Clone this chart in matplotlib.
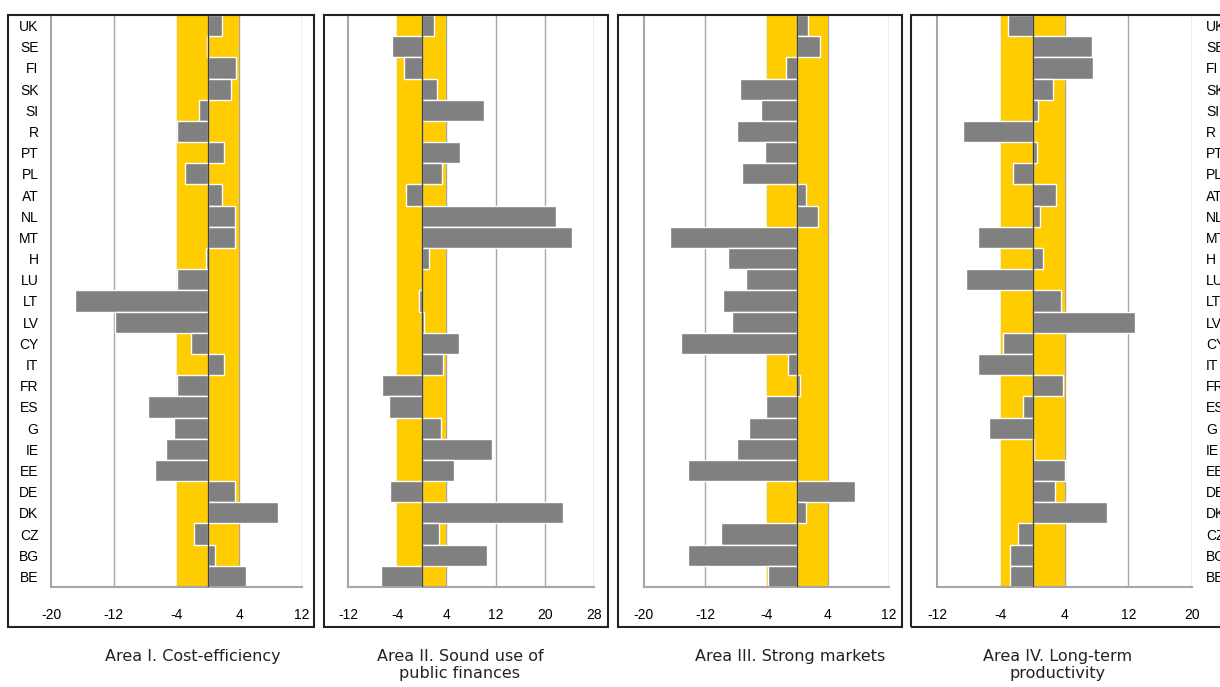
import matplotlib
matplotlib.use("Agg")
import matplotlib.pyplot as plt
from matplotlib.patches import Rectangle
import numpy as np

countries = ["UK", "SE", "FI", "SK", "SI", "R", "PT", "PL", "AT", "NL", "MT", "H", "LU",
             "LT", "LV", "CY", "IT", "FR", "ES", "G", "IE", "EE", "DE", "DK", "CZ", "BG", "BE"]

cost_efficiency = [1.8, -0.1, 3.6, 3.0, -1.1, -3.9, 2.1, -2.9, 1.8, 3.4, 3.4, -0.3, -3.9,
                   -16.9, -11.8, -2.2, 2.0, -4.0, -7.6, -4.3, -5.4, -6.8, 3.4, 9.0, -1.8, 0.9, 4.8]
public_finances = [2.0, -4.8, -2.9, 2.5, 10.1, 0.0, 6.2, 3.3, -2.6, 21.9, 24.5, 1.2, 0.0,
                   -0.4, 0.4, 6.0, 3.5, -6.5, -5.3, 3.1, 11.4, 5.3, -5.2, 23.0, 2.8, 10.6, -6.7]
strong_markets = [1.4, 3.0, -1.4, -7.4, -4.7, -7.8, -4.2, -7.2, 1.1, 2.7, -16.6, -9.0, -6.7,
                  -9.7, -8.5, -15.2, -1.2, 0.4, -4.1, -6.3, -7.8, -14.3, 7.6, 1.2, -10.0, -14.2, -3.8]
productivity = [-3.1, 7.4, 7.6, 2.5, 0.7, -8.7, 0.6, -2.5, 2.9, 0.9, -6.9, 1.3, -8.4,
                3.5, 12.8, -3.7, -6.8, 3.8, -1.2, -5.5, 0.2, 4.0, 2.8, 9.3, -1.8, -2.8, -2.8]

titles = ["Area I. Cost-efficiency", "Area II. Sound use of\npublic finances",
          "Area III. Strong markets", "Area IV. Long-term\nproductivity"]
series = [cost_efficiency, public_finances, strong_markets, productivity]
xlims = [(-20, 12), (-12, 28), (-20, 12), (-12, 20)]

W, H = 1220, 687
fig = plt.figure(figsize=(W / 100, H / 100), dpi=100)

# pixel layout: axes x-range, frame x-range, title centre
ax_px = [(51, 302), (348, 594), (644, 889), (937, 1192)]
frame_px = [(8, 314), (324, 608), (618, 902), (911, 1230)]
title_x = [193, 460, 790, 1058]
ax_top, ax_bot = 15, 587
fr_top, fr_bot = 15, 627

gold = "#FFCC00"
grey = "#808080"
grid_c = "#A6A6A6"

y = np.arange(len(countries))

for i in range(4):
    x0, x1 = ax_px[i]
    ax = fig.add_axes([x0 / W, 1 - ax_bot / H, (x1 - x0) / W, (ax_bot - ax_top) / H])
    lo, hi = xlims[i]
    ax.set_xlim(lo, hi)
    ax.set_ylim(len(countries) - 0.5, -0.5)
    ticks = np.arange(lo, hi + 1, 8)
    ax.set_xticks(ticks)
    ax.set_xticklabels([str(t) for t in ticks], fontsize=10, family="Liberation Sans")
    for t in ticks[1:]:
        ax.axvline(t, color=grid_c, lw=1, zorder=0)
    ax.axvspan(-4, 4, color=gold, zorder=1, lw=0)
    ax.barh(y, series[i], height=1.0, color=grey, edgecolor="white", linewidth=1, zorder=2)
    ax.axvline(0, color="#404040", lw=1, zorder=3)
    for s in ["top", "right"]:
        ax.spines[s].set_visible(False)
    for s in ["left", "bottom"]:
        ax.spines[s].set_color(grid_c)
        ax.spines[s].set_linewidth(1.5)
    ax.tick_params(axis="x", length=0, pad=15)
    ax.set_yticks(y)
    if i == 0:
        ax.set_yticklabels(countries, fontsize=10, family="Liberation Sans")
        ax.tick_params(axis="y", length=0, pad=9)
    elif i == 3:
        ax.yaxis.tick_right()
        ax.set_yticklabels(countries, fontsize=10, family="Liberation Sans")
        ax.tick_params(axis="y", length=0, pad=10)
    else:
        ax.set_yticklabels([])
        ax.tick_params(axis="y", length=0)

    f0, f1 = frame_px[i]
    fig.patches.append(Rectangle((f0 / W, 1 - fr_bot / H), (f1 - f0) / W, (fr_bot - fr_top) / H,
                                 transform=fig.transFigure, fill=False, edgecolor="#222222",
                                 lw=1.5, zorder=5))
    fig.text(title_x[i] / W, 1 - 649 / H, titles[i], ha="center", va="top",
             fontsize=11.5, family="DejaVu Sans", color="#222222", linespacing=1.15)

fig.savefig("out.png", dpi=100)
